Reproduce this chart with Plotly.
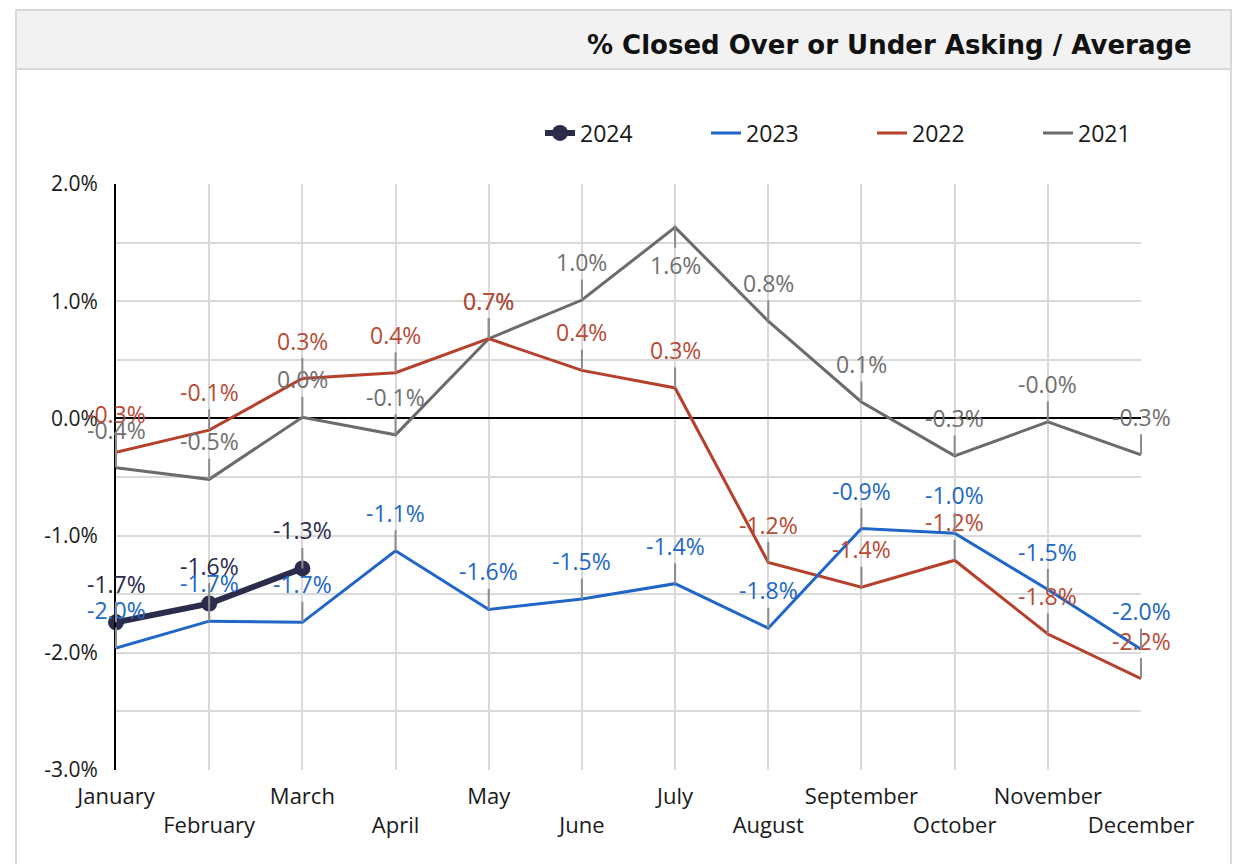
import plotly.graph_objects as go

months = ["January", "February", "March", "April", "May", "June", "July",
          "August", "September", "October", "November", "December"]
y2024 = [-1.74, -1.58, -1.28]
y2023 = [-1.96, -1.73, -1.74, -1.13, -1.63, -1.54, -1.41, -1.79, -0.94, -0.98, -1.46, -1.97]
y2022 = [-0.29, -0.10, 0.34, 0.39, 0.68, 0.41, 0.26, -1.23, -1.44, -1.21, -1.84, -2.22]
y2021 = [-0.42, -0.52, 0.01, -0.14, 0.68, 1.01, 1.63, 0.83, 0.14, -0.32, -0.03, -0.31]
ytick_vals = [-3.0, -2.5, -2.0, -1.5, -1.0, -0.5, 0.0, 0.5, 1.0, 1.5, 2.0]
ytick_text = ["-3.0%", "", "-2.0%", "", "-1.0%", "", "0.0%", "", "1.0%", "", "2.0%"]
title_text = "% Closed Over or Under Asking / Average"

FONT = "Open Sans"
series = [
    ("2021", y2021, "#6b6b6b", "#707070"),
    ("2022", y2022, "#b5412d", "#b94a35"),
    ("2023", y2023, "#1f66c8", "#2268c4"),
    ("2024", y2024, "#2b2b4b", "#2b2b4b"),
]
rank = {"2024": 1, "2023": 2, "2022": 3, "2021": 4}

fig = go.Figure()
annotations = []
for name, vals, col, lcol in series:
    is24 = name == "2024"
    fig.add_trace(go.Scatter(
        x=months[:len(vals)], y=vals, name=name, mode="lines+markers" if is24 else "lines",
        line=dict(color=col, width=6 if is24 else 3),
        marker=dict(size=16, color=col) if is24 else None,
        cliponaxis=False, legendrank=rank[name],
    ))
    for m, v in zip(months, vals):
        below = (name == "2021" and m == "July")
        annotations.append(dict(
            x=m, y=v, xref="x", yref="y", text=f"{v:.1f}%",
            showarrow=True, ax=0, ay=38 if below else -38,
            arrowhead=0, arrowwidth=2, arrowcolor="#8c8c8c", standoff=0, startstandoff=0,
            font=dict(family=FONT, size=23, color=lcol),
        ))

# page is drawn with an 8px body offset; plot area in screen pixels: x 116..1141, y 184..770
OFF = 8
FW, FH = 1240 - OFF, 864 - OFF
L, T = 116 - OFF, 184 - OFF
W, H = 1141 - 116, 770 - 184
R, B = FW - L - W, FH - T - H
def px(xs): return (xs - 116) / W
def py(ys): return (770 - ys) / H

annotations.append(dict(
    xref="paper", yref="paper", x=px(1194), y=py(45),
    xanchor="right", yanchor="middle", showarrow=False, text=f"<b>{title_text}</b>",
    font=dict(family="DejaVu Sans", size=26, color="#111111"),
))

shapes = [
    dict(type="rect", xref="paper", yref="paper", x0=px(16), x1=px(1231), y0=py(69), y1=py(10),
         fillcolor="#f2f2f2", line=dict(color="#d9d9d9", width=2), layer="below"),
    dict(type="rect", xref="paper", yref="paper", x0=px(16), x1=px(1231), y0=py(890), y1=py(10),
         fillcolor="rgba(0,0,0,0)", line=dict(color="#d9d9d9", width=2), layer="below"),
]

fig.update_layout(
    width=FW, height=FH,
    margin=dict(l=L, r=R, t=T, b=B, autoexpand=False),
    paper_bgcolor="white", plot_bgcolor="white",
    font=dict(family=FONT, size=21, color="#1a1a1a"),
    showlegend=True,
    legend=dict(orientation="h", x=px(540), xanchor="left", y=py(133), yanchor="middle",
                entrywidth=121, entrywidthmode="pixels",
                font=dict(family=FONT, size=23, color="#1a1a1a"), bgcolor="rgba(0,0,0,0)"),
    annotations=annotations, shapes=shapes,
)
fig.update_xaxes(
    type="category", categoryorder="array", categoryarray=months, range=[0, 11],
    tickvals=months, ticktext=[m if i % 2 == 0 else "<br>" + m for i, m in enumerate(months)],
    tickangle=0, automargin=False, ticklabelstandoff=11,
    showgrid=True, gridcolor="#d9d9d9", gridwidth=2, showline=False, zeroline=False,
    ticks="", tickfont=dict(family=FONT, size=22, color="#1a1a1a"),
)
fig.update_yaxes(
    range=[-3, 2], tickvals=ytick_vals, ticktext=ytick_text, automargin=False,
    showgrid=True, gridcolor="#d9d9d9", gridwidth=2,
    zeroline=True, zerolinecolor="#000000", zerolinewidth=2,
    showline=True, linecolor="#000000", linewidth=2, ticks="",
    tickfont=dict(family=FONT, size=21, color="#1a1a1a"), ticklabelstandoff=12,
)
fig.write_html("out.html")
